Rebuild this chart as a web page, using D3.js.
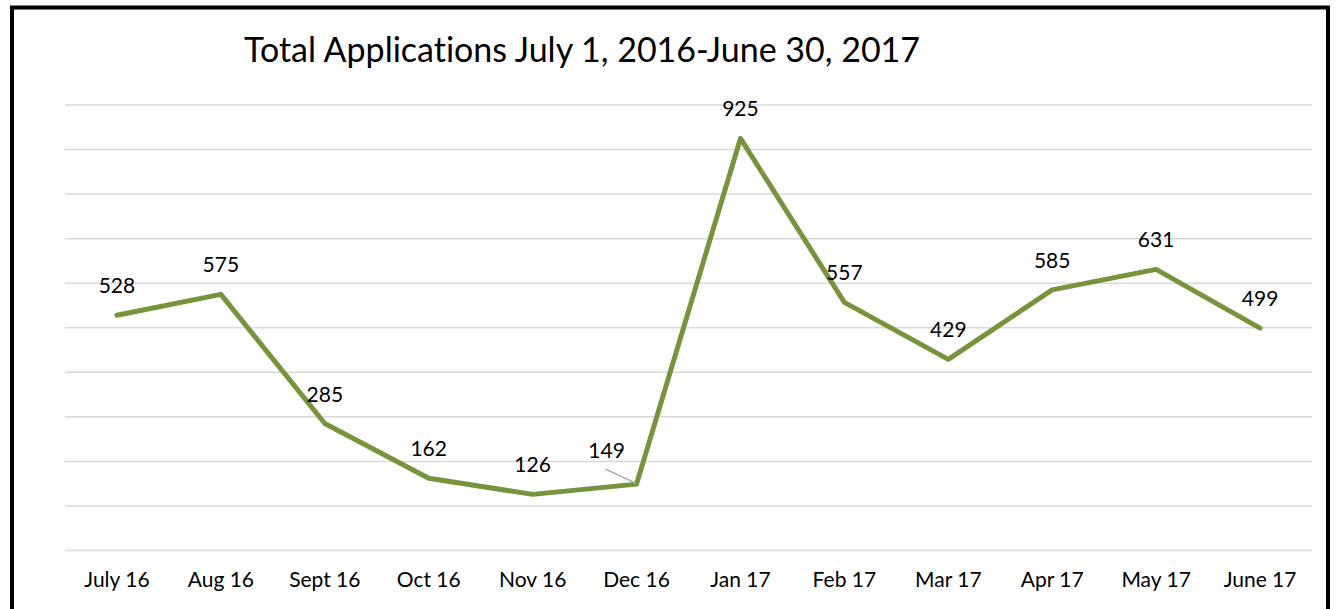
<!DOCTYPE html>
<html><head><meta charset="utf-8">
<script src="https://cdn.jsdelivr.net/npm/d3@7"></script>
<style>body{margin:0;background:#fff}svg{display:block}text{font-variant-ligatures:none}</style>
</head><body>
<svg id="c" width="1335" height="609"></svg>
<script>
const categories = ["July 16","Aug 16","Sept 16","Oct 16","Nov 16","Dec 16","Jan 17","Feb 17","Mar 17","Apr 17","May 17","June 17"];
const values = [528,575,285,162,126,149,925,557,429,585,631,499];
const yTicks = [0,100,200,300,400,500,600,700,800,900,1000];
const title = "Total Applications July 1, 2016-June 30, 2017";

const svg = d3.select("#c");
const font = "Lato, 'Open Sans', sans-serif";
const x = d3.scaleBand().domain(categories).range([65,1312]);
const y = d3.scaleLinear().domain([0,1000]).range([550.5,105]);

svg.append("rect").attr("width",1335).attr("height",609).attr("fill","#fff");
svg.append("rect").attr("x",12).attr("y",7.5).attr("width",1316).attr("height",700)
  .attr("fill","none").attr("stroke","#000").attr("stroke-width",4);

svg.append("g").selectAll("line").data(yTicks).join("line")
  .attr("x1",65).attr("x2",1312).attr("y1",d=>y(d)).attr("y2",d=>y(d))
  .attr("stroke","#d9d9d9").attr("stroke-width",1.5);

const xAxis = svg.append("g").attr("transform","translate(0,550)")
  .call(d3.axisBottom(x).tickSize(0).tickPadding(0));
xAxis.select(".domain").remove();
xAxis.selectAll("text").attr("y",37).attr("dy",0).attr("font-family",font).attr("font-size",21).attr("fill","#000");

const cx = d => x(d)+x.bandwidth()/2;
const line = d3.line().x((d,i)=>cx(categories[i])).y(d=>y(d)).curve(d3.curveLinear);
svg.append("path").datum(values).attr("d",line).attr("fill","none")
  .attr("stroke","#77933c").attr("stroke-width",5).attr("stroke-linejoin","round").attr("stroke-linecap","round");

// leader line for Dec 16 label
const di = 5;
svg.append("line").attr("x1",cx(categories[di])-31).attr("y1",y(values[di])-15)
  .attr("x2",cx(categories[di])-1).attr("y2",y(values[di])-1)
  .attr("stroke","#a6a6a6").attr("stroke-width",1.5);

svg.append("g").selectAll("text").data(values).join("text")
  .attr("x",(d,i)=>cx(categories[i]) + (i===di?-30:0))
  .attr("y",(d,i)=>y(d) + (i===di?-26:-22))
  .attr("text-anchor","middle").attr("font-family",font).attr("font-size",21).attr("fill","#000")
  .text(d=>d);

svg.append("text").attr("x",244).attr("y",62).attr("font-family",font).attr("font-size",34)
  .attr("fill","#000").text(title);
</script>
</body></html>
